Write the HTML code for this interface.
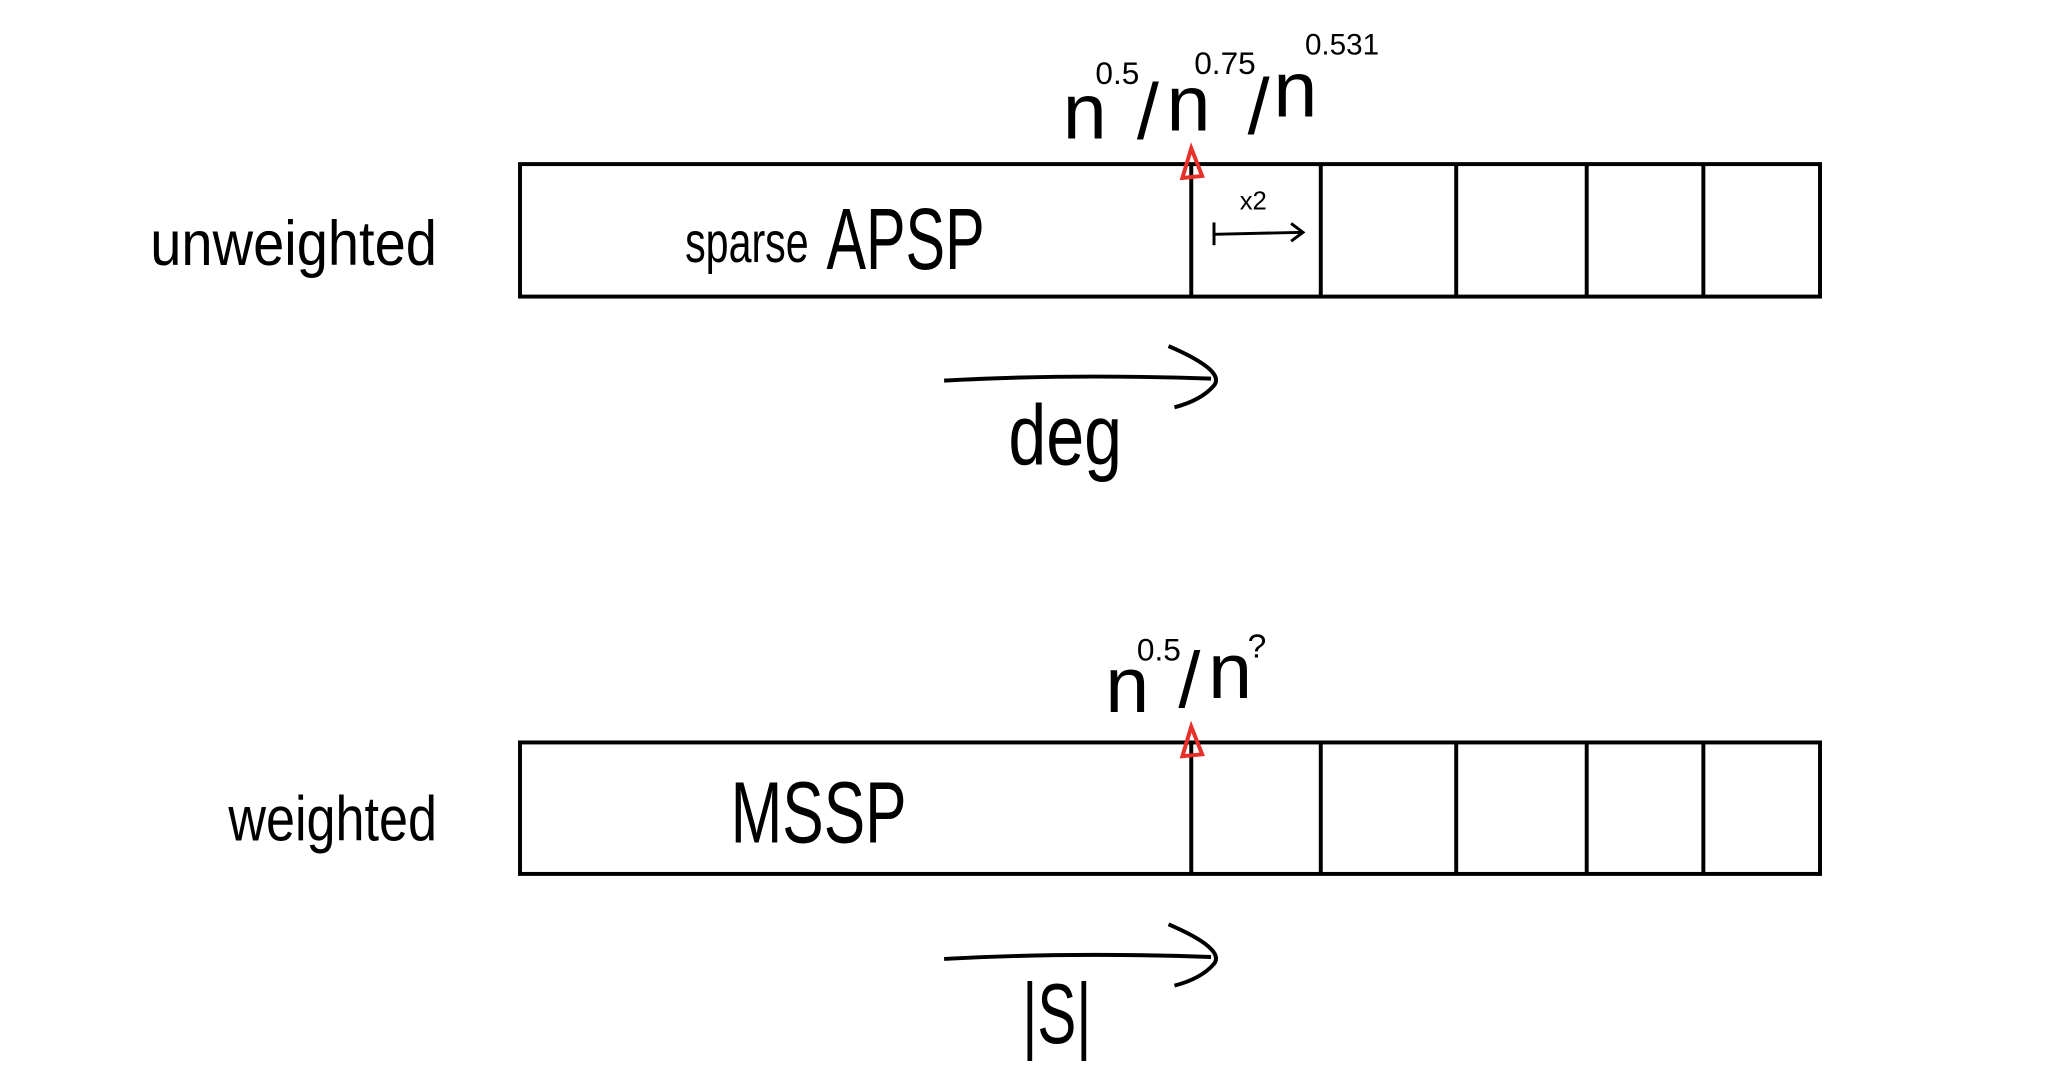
<!DOCTYPE html>
<html><head><meta charset="utf-8"><style>html,body{margin:0;padding:0;background:#fff}svg{display:block}</style></head>
<body>
<svg width="2046" height="1068" viewBox="0 0 2046 1068" xmlns="http://www.w3.org/2000/svg" font-family="'Liberation Sans Narrow','Liberation Sans',sans-serif" fill="#000">
<g transform="scale(0.9886)">
<g stroke="#000" stroke-width="4" fill="none">
<rect x="526" y="166" width="1315" height="134"/>
<line x1="1205" y1="166" x2="1205" y2="300"/><line x1="1336" y1="166" x2="1336" y2="300"/><line x1="1473" y1="166" x2="1473" y2="300"/><line x1="1605" y1="166" x2="1605" y2="300"/><line x1="1723" y1="166" x2="1723" y2="300"/>
<rect x="526" y="751" width="1315" height="133"/>
<line x1="1205" y1="751" x2="1205" y2="884"/><line x1="1336" y1="751" x2="1336" y2="884"/><line x1="1473" y1="751" x2="1473" y2="884"/><line x1="1605" y1="751" x2="1605" y2="884"/><line x1="1723" y1="751" x2="1723" y2="884"/>
<path d="M955 385 Q1080 378 1225 383"/><path d="M1182 350 Q1240 375 1228 390 Q1215 405 1188 412"/>
<path d="M955 970 Q1080 963 1225 968"/><path d="M1182 935 Q1240 960 1228 975 Q1215 990 1188 997"/>
<line x1="1228" y1="225" x2="1228" y2="248" stroke-width="3"/><path d="M1228 237 L1318 235 M1306 226 L1318 235 L1306 244" stroke-width="3"/>
</g>
<g stroke="#e8302a" stroke-width="4" fill="none">
<path d="M1205 150 L1196 180 L1216 178 Z"/><path d="M1205 735 L1196 765 L1216 763 Z"/>
</g>
<g font-size="64">
<text x="152" y="268" textLength="290" lengthAdjust="spacingAndGlyphs">unweighted</text>
<text x="231" y="850" textLength="211" lengthAdjust="spacingAndGlyphs">weighted</text>
<text x="693" y="265" font-size="58" textLength="125" lengthAdjust="spacingAndGlyphs">sparse</text>
<text x="836" y="272" font-size="88" textLength="160" lengthAdjust="spacingAndGlyphs">APSP</text>
<text x="739" y="852" font-size="88" textLength="178" lengthAdjust="spacingAndGlyphs">MSSP</text>
<text x="1020" y="470" font-size="86" textLength="115" lengthAdjust="spacingAndGlyphs">deg</text>
<text x="1034" y="1055" font-size="86" textLength="70" lengthAdjust="spacingAndGlyphs">|S|</text>
<text x="1254" y="212" font-size="26">x2</text>
</g>
<g font-size="80">
<text x="1075" y="140">n</text><text x="1108" y="85" font-size="32">0.5</text><text x="1150" y="140">/</text>
<text x="1180" y="132">n</text><text x="1208" y="75" font-size="32">0.75</text><text x="1262" y="135">/</text>
<text x="1288" y="118">n</text><text x="1320" y="55" font-size="30">0.531</text>
<text x="1118" y="720">n</text><text x="1150" y="668" font-size="32">0.5</text><text x="1192" y="715">/</text>
<text x="1222" y="706">n</text><text x="1262" y="665" font-size="34">?</text>
</g>
</g>
</svg>
</body></html>
